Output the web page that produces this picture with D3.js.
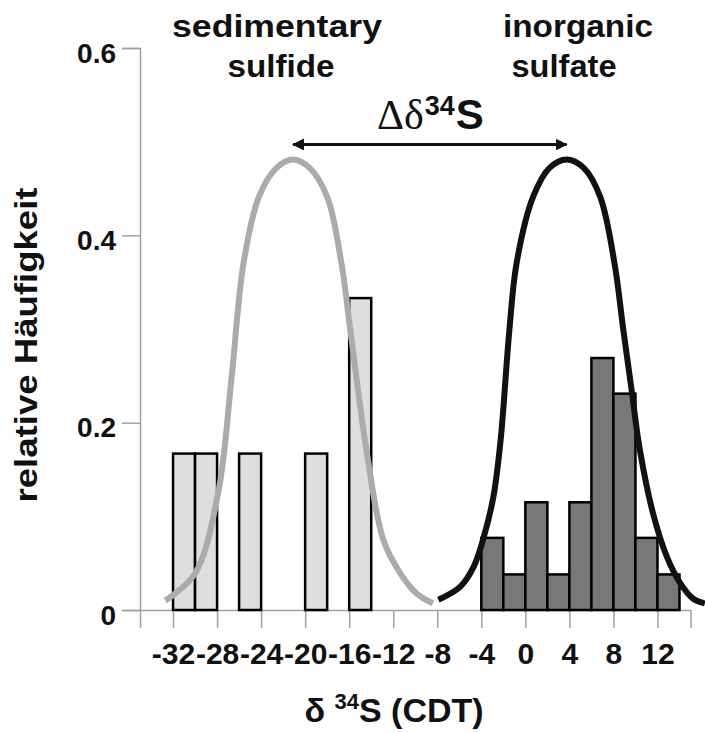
<!DOCTYPE html>
<html>
<head>
<meta charset="utf-8">
<script src="https://cdn.jsdelivr.net/npm/d3@7"></script>
<style>
  body { margin: 0; background: #fff; }
  text { font-family: "Liberation Sans", Arial, sans-serif; font-weight: bold; fill: #111; }
</style>
</head>
<body>
<svg width="705" height="733"></svg>
<script>
// histogram bins (left edge, width 2 permil) and relative frequencies
var sulfideBins = [-32, -30, -26, -20, -16],
    sulfideFreq = [0.167, 0.167, 0.167, 0.167, 0.333];
var sulfateBins = [-4, -2, 0, 2, 4, 6, 8, 10, 12],
    sulfateFreq = [0.077, 0.038, 0.115, 0.038, 0.115, 0.269, 0.231, 0.077, 0.038];
var binWidth = 2;

// fitted distribution curves [d34S, freq]
var sulfideCurve = [[-32.7,0.010],[-30.0,0.039],[-27.9,0.125],[-26.7,0.246],[-25.6,0.370],[-24.2,0.441],
    [-22.6,0.472],[-21.1,0.481],[-19.6,0.472],[-18.0,0.441],[-16.7,0.370],[-15.9,0.299],[-14.4,0.168],
    [-12.9,0.075],[-11.4,0.040],[-9.9,0.018],[-8.4,0.007]];
var sulfateCurve = [[-7.9,0.011],[-5.9,0.025],[-4.7,0.046],[-3.8,0.077],[-2.9,0.121],[-2.25,0.181],
    [-1.45,0.299],[-0.8,0.370],[0.7,0.441],[2.2,0.472],[3.75,0.481],[5.3,0.472],[6.8,0.441],[8.1,0.370],
    [8.9,0.299],[9.65,0.235],[10.4,0.171],[11.6,0.103],[12.85,0.057],[14.05,0.029],[15.25,0.012],[16.3,0.007]];

// peak positions joined by the delta arrow
var peaks = [-21.1, 3.75], arrowLevel = 0.497;

var xMajor = [-32, -28, -24, -20, -16, -12, -8, -4, 0, 4, 8, 12],
    xMinor = [-34, -30, -26, -22, -18, -14, -10, -6, -2, 2, 6, 10, 14],
    yMajor = [0, 0.2, 0.4, 0.6],
    yMinor = [0.1, 0.3, 0.5];

var svg = d3.select("svg");

var x = d3.scaleLinear().domain([-35, 15]).range([140, 690.5]),
    y = d3.scaleLinear().domain([0, 0.6]).range([610, 48]);

// axes
var axisColor = "#a0a0a0";

var gy = svg.append("g").attr("transform", "translate(" + x(-35) + ",0)");
gy.call(d3.axisLeft(y).tickValues(yMinor).tickSize(9).tickFormat(""));
gy.call(d3.axisLeft(y).tickValues(yMajor).tickSize(18).tickFormat(function(d){ return d === 0 ? "0" : d3.format(".1f")(d); }).tickPadding(6));
gy.selectAll("path, line").attr("stroke", axisColor).attr("stroke-width", 1.5);
gy.selectAll("text").style("font-size", "28px").attr("dy", "0.5em");

var gx = svg.append("g").attr("transform", "translate(0," + y(0) + ")");
gx.call(d3.axisBottom(x).tickValues(xMinor).tickSize(10).tickFormat(""));
gx.call(d3.axisBottom(x).tickValues(xMajor).tickSize(18).tickFormat(function(d){ return String(d); }).tickPadding(14));
gx.selectAll("path, line").attr("stroke", axisColor).attr("stroke-width", 1.5);
gx.selectAll("text").style("font-size", "30px").attr("dy", "0.72em");

// bars
svg.append("g").selectAll("rect")
    .data(sulfideBins)
    .enter().append("rect")
    .attr("x", function(d){ return x(d); })
    .attr("width", function(d){ return x(d + binWidth) - x(d); })
    .attr("y", function(d, i){ return y(sulfideFreq[i]); })
    .attr("height", function(d, i){ return y(0) - y(sulfideFreq[i]); })
    .attr("fill", "#dedede").attr("stroke", "#000").attr("stroke-width", 2.5);

svg.append("g").selectAll("rect")
    .data(sulfateBins)
    .enter().append("rect")
    .attr("x", function(d){ return x(d); })
    .attr("width", function(d){ return x(d + binWidth) - x(d); })
    .attr("y", function(d, i){ return y(sulfateFreq[i]); })
    .attr("height", function(d, i){ return y(0) - y(sulfateFreq[i]); })
    .attr("fill", "#787878").attr("stroke", "#000").attr("stroke-width", 2.5);

// curves
var line = d3.line()
    .x(function(d){ return x(d[0]); })
    .y(function(d){ return y(d[1]); })
    .curve(d3.curveCatmullRom.alpha(0.5));

svg.append("path").datum(sulfideCurve)
    .attr("d", line).attr("fill", "none").attr("stroke", "#ababab").attr("stroke-width", 6);
svg.append("path").datum(sulfateCurve)
    .attr("d", line).attr("fill", "none").attr("stroke", "#111").attr("stroke-width", 6);

// delta arrow
var defs = svg.append("defs");
defs.append("marker").attr("id", "head")
    .attr("viewBox", "0 0 12 12").attr("refX", 11).attr("refY", 6)
    .attr("markerWidth", 12).attr("markerHeight", 12).attr("markerUnits", "userSpaceOnUse")
    .attr("orient", "auto-start-reverse")
  .append("path").attr("d", "M0,0L12,6L0,12Z").attr("fill", "#111");

svg.append("line")
    .attr("x1", x(peaks[0])).attr("x2", x(peaks[1]))
    .attr("y1", y(arrowLevel)).attr("y2", y(arrowLevel))
    .attr("stroke", "#111").attr("stroke-width", 3)
    .attr("marker-start", "url(#head)").attr("marker-end", "url(#head)");

var dl = svg.append("text").attr("x", 377).attr("y", 129);
dl.append("tspan").text("Δδ").style("font-family", "'Liberation Serif', 'Times New Roman', serif")
    .style("font-weight", "normal").style("font-size", "42px");
dl.append("tspan").text("34").style("font-size", "27px").attr("dx", 1).attr("dy", -14);
dl.append("tspan").text("S").style("font-size", "42px").attr("dx", 1).attr("dy", 14);

// group titles
function title(txt, cx, by, len) {
  svg.append("text").attr("x", cx).attr("y", by).attr("text-anchor", "middle")
    .attr("textLength", len).attr("lengthAdjust", "spacingAndGlyphs")
    .style("font-size", "31px").text(txt);
}
title("sedimentary", 277, 37, 210);
title("sulfide", 281, 77, 107);
title("inorganic", 578, 37, 150);
title("sulfate", 564, 77, 105);

// axis titles
svg.append("text")
    .attr("transform", "translate(37,345) rotate(-90)")
    .attr("text-anchor", "middle")
    .attr("textLength", 315).attr("lengthAdjust", "spacingAndGlyphs")
    .style("font-size", "31px")
    .text("relative Häufigkeit");

var xt = svg.append("text").attr("x", 394).attr("y", 722).attr("text-anchor", "middle").style("font-size", "34px");
xt.append("tspan").text("δ ");
xt.append("tspan").text("34").style("font-size", "22px").attr("dy", -13);
xt.append("tspan").text("S (CDT)").attr("dy", 13);
</script>
</body>
</html>
